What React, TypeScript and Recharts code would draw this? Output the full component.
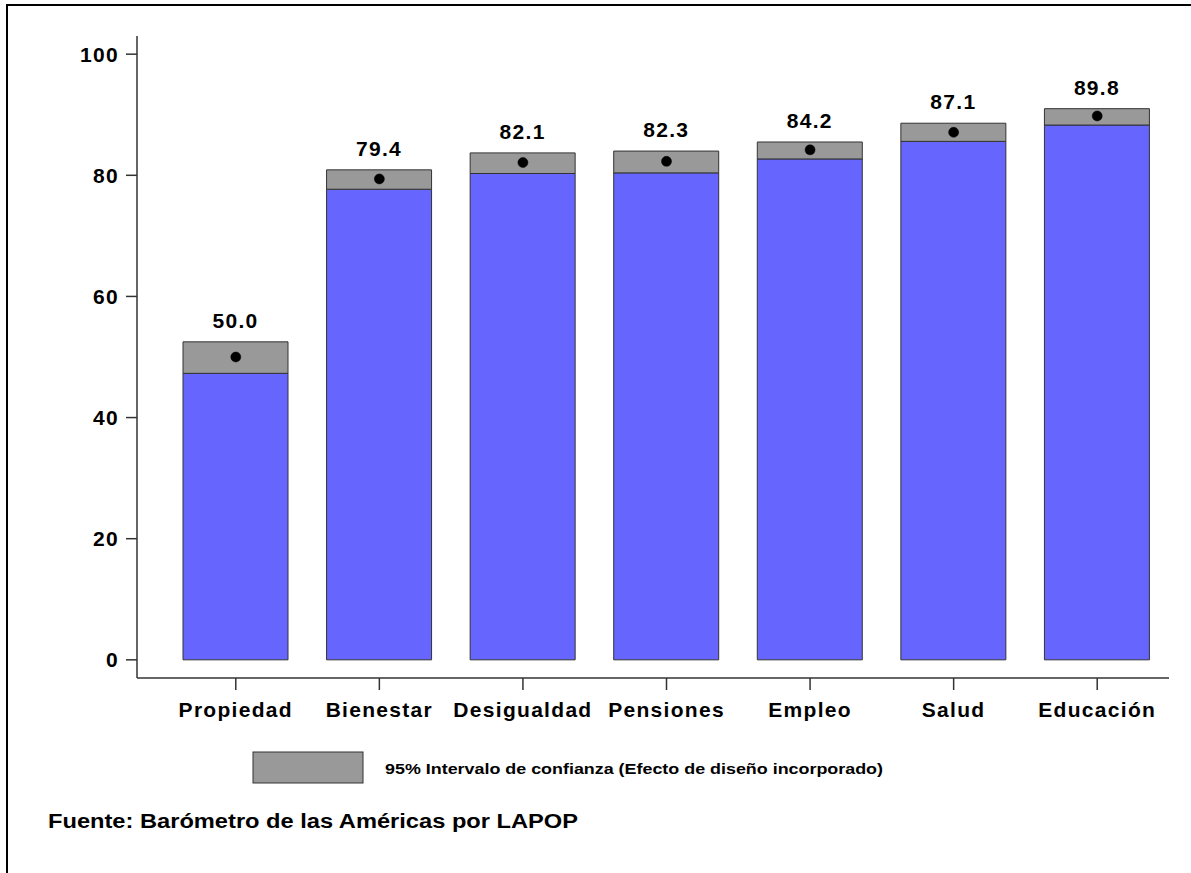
import { ComposedChart, Bar, Line, XAxis, YAxis, LabelList } from 'recharts';

const categories = ['Propiedad', 'Bienestar', 'Desigualdad', 'Pensiones', 'Empleo', 'Salud', 'Educación'];
const means = [50.0, 79.4, 82.1, 82.3, 84.2, 87.1, 89.8];
const lowerCI = [47.3, 77.7, 80.3, 80.4, 82.7, 85.6, 88.3];
const upperCI = [52.5, 80.9, 83.7, 84.0, 85.5, 88.6, 91.0];
const yTicks = [0, 20, 40, 60, 80, 100];

const legendText = '95% Intervalo de confianza (Efecto de diseño incorporado)';
const sourceText = 'Fuente: Barómetro de las Américas por LAPOP';

const data = categories.map((name, i) => ({
  name,
  base: lowerCI[i],
  ci: +(upperCI[i] - lowerCI[i]).toFixed(2),
  mean: means[i],
}));

const font = '"Liberation Sans", Arial, sans-serif';
const tickStyle = { fill: '#000', fontSize: 21, fontWeight: 700, fontFamily: font, letterSpacing: 1.3 };

export default function App() {
  return (
    <div style={{ position: 'absolute', left: 0, top: 0, width: 1191, height: 873, background: '#fff', overflow: 'hidden' }}>
      <svg style={{ position: 'absolute', left: 0, top: 0 }} width={1191} height={873}>
        {/* frame */}
        <rect x={7} y={5} width={1200} height={900} fill="none" stroke="#000" strokeWidth={2} />
      </svg>
      <div style={{ position: 'absolute', left: 0, top: 0 }}>
        <ComposedChart width={1191} height={760} data={data} margin={{ top: 36, right: 22, left: 57, bottom: 22 }}>
          <XAxis
            dataKey="name"
            height={60}
            padding={{ left: 27, right: 0 }}
            stroke="#333"
            strokeWidth={1.5}
            tickSize={12}
            tickMargin={12}
            tick={tickStyle}
            interval={0}
          />
          <YAxis
            width={80}
            domain={[-3, 103]}
            ticks={yTicks}
            allowDataOverflow
            stroke="#333"
            strokeWidth={1.5}
            tickSize={11}
            tickMargin={7}
            tick={tickStyle}
          />
          <Bar dataKey="base" stackId="a" barSize={105} fill="#6666FF" stroke="#333" strokeWidth={1} isAnimationActive={false} />
          <Bar dataKey="ci" stackId="a" barSize={105} fill="#999999" stroke="#333" strokeWidth={1} isAnimationActive={false}>
            <LabelList
              dataKey="mean"
              position="top"
              offset={14}
              formatter={(v: number) => v.toFixed(1)}
              style={{ fill: '#000', fontSize: 21, fontWeight: 700, fontFamily: font, letterSpacing: 1.3 }}
            />
          </Bar>
          <Line
            dataKey="mean"
            stroke="none"
            dot={{ r: 5, fill: '#000', stroke: '#000', strokeWidth: 0.5 }}
            activeDot={false}
            isAnimationActive={false}
          />
        </ComposedChart>
      </div>
      <svg style={{ position: 'absolute', left: 0, top: 0 }} width={1191} height={873}>
        <rect x={253} y={752} width={110} height={31} fill="#999999" stroke="#333" strokeWidth={1} />
        <text
          x={385}
          y={774}
          fontFamily={font}
          fontWeight={700}
          fontSize={15}
          fill="#000"
          textLength={498}
          lengthAdjust="spacingAndGlyphs"
        >
          {legendText}
        </text>
        <text
          x={48}
          y={828}
          fontFamily={font}
          fontWeight={700}
          fontSize={20}
          fill="#000"
          textLength={530}
          lengthAdjust="spacingAndGlyphs"
        >
          {sourceText}
        </text>
      </svg>
    </div>
  );
}
